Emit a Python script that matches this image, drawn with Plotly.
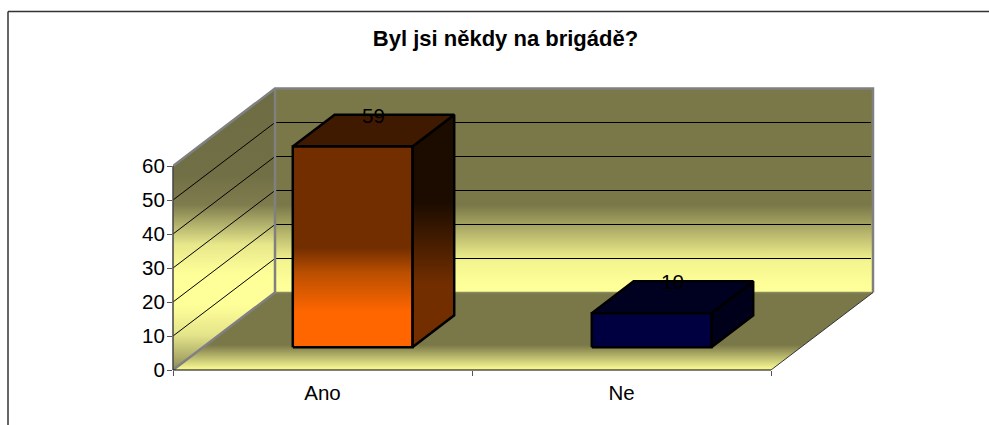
import plotly.graph_objects as go

# --- data ---
categories = ["Ano", "Ne"]
values = [59, 10]
y_ticks = [0, 10, 20, 30, 40, 50, 60]
title_text = "Byl jsi někdy na brigádě?"

# --- style ---
W, H = 989, 425
L, R, T, B = 173, 771, 166, 370       # front-plane pixel box
Y_MAX = 60
X_MAX = len(categories)
PX_X = (R - L) / X_MAX
PX_Y = (B - T) / Y_MAX
DEPTH_X = 102 / PX_X                   # full depth shift in category units
DEPTH_Y = 77.5 / PX_Y                  # full depth shift in value units
SLACK_X, SLACK_Y = 3, 3.5              # pixels kept free beyond the back wall
BAR_W = 0.40
BAR_D0, BAR_D1 = 0.295, 0.705
LABEL_LIFT = 0.8                       # value units above the bar's top centre
FONT = "Liberation Sans"
OLIVE = "#7A7848"
PALE = "#FFFF99"

X_TOP = X_MAX + DEPTH_X + SLACK_X / PX_X
Y_TOP = Y_MAX + DEPTH_Y + SLACK_Y / PX_Y
PLOT_R = L + X_TOP * PX_X
PLOT_T = B - Y_TOP * PX_Y


def proj(x, v, d=0.0):
    return x + d * DEPTH_X, v + d * DEPTH_Y


def val_of_px(py):
    return (B - py) / PX_Y


def grad(stops):
    """stops = [(pixel y, colour)...] top to bottom -> fillgradient in axis units."""
    top, bottom = stops[0][0], stops[-1][0]
    scale = [[(p - top) / (bottom - top), c] for p, c in stops]
    return dict(type="vertical", colorscale=scale, start=val_of_px(top), stop=val_of_px(bottom))


fig = go.Figure()


def poly(points, gradient=None, color=None, line_color=None, line_width=0):
    xs = [p[0] for p in points] + [points[0][0]]
    ys = [p[1] for p in points] + [points[0][1]]
    kw = dict(fillgradient=gradient) if gradient else dict(fillcolor=color)
    fig.add_trace(go.Scatter(
        x=xs, y=ys, mode="lines", fill="toself", cliponaxis=False, hoverinfo="skip",
        line=dict(color=line_color or "rgba(0,0,0,0)", width=line_width), showlegend=False, **kw))


def path(points, color, width):
    fig.add_trace(go.Scatter(
        x=[p[0] for p in points], y=[p[1] for p in points], mode="lines", cliponaxis=False,
        hoverinfo="skip", line=dict(color=color, width=width), showlegend=False))


wall_stops = [(89, OLIVE), (205, OLIVE), (262, "#F5F590"), (285, PALE), (292, PALE)]
side_stops = [(89, "#6E6C42"), (175, "#716F45"), (205, "#7F7D4E"), (245, "#E8E88C"), (275, PALE),
              (305, PALE), (335, "#E4E48A"), (370, "#8E8C58")]
floor_stops = [(292, OLIVE), (345, OLIVE), (368, "#F4F48F"), (370, "#F4F48F")]

# back wall
back = [proj(0, 0, 1), proj(X_MAX, 0, 1), proj(X_MAX, Y_MAX, 1), proj(0, Y_MAX, 1)]
poly(back, gradient=grad(wall_stops))
# side wall
side = [proj(0, 0, 0), proj(0, 0, 1), proj(0, Y_MAX, 1), proj(0, Y_MAX, 0)]
poly(side, gradient=grad(side_stops))
# floor
floor = [proj(0, 0, 0), proj(X_MAX, 0, 0), proj(X_MAX, 0, 1), proj(0, 0, 1)]
poly(floor, gradient=grad(floor_stops))

# gridlines
for t in y_ticks[1:-1]:
    path([proj(0, t, 0), proj(0, t, 1), proj(X_MAX - 0.007, t, 1)], "#000000", 1)

# wall borders
path([proj(0, Y_MAX, 0), proj(0, Y_MAX, 1), proj(X_MAX, Y_MAX, 1), proj(X_MAX, 0, 1)], "#808080", 2.5)
path([proj(0, 0, 0), proj(0, 0, 1), proj(0, Y_MAX, 1)], "#808080", 2.5)
path([proj(0, 0, 1), proj(X_MAX, 0, 1)], "#8A8A60", 1.5)
path([proj(X_MAX, 0, 0), proj(X_MAX, 0, 1)], "#333333", 1)

# bars
bar_styles = [
    dict(front=[(147, "#732E00"), (248, "#732E00"), (272, "#B84E00"), (312, "#FF6600"), (347, "#FF6600")],
         side=[(116, "#1C0C00"), (203, "#1C0C00"), (240, "#431C00"), (285, "#732E00"), (347, "#732E00")],
         top="#401A00"),
    dict(front=[(313, "#000040"), (347, "#000040")],
         side=[(282, "#00001A"), (347, "#00001A")],
         top="#000020"),
]
for i, (v, st) in enumerate(zip(values, bar_styles)):
    x0 = i + 0.5 - BAR_W / 2
    x1 = i + 0.5 + BAR_W / 2
    kw = dict(line_color="#000000", line_width=2.5)
    poly([proj(x1, 0, BAR_D0), proj(x1, 0, BAR_D1), proj(x1, v, BAR_D1), proj(x1, v, BAR_D0)],
         gradient=grad(st["side"]), **kw)
    poly([proj(x0, v, BAR_D0), proj(x1, v, BAR_D0), proj(x1, v, BAR_D1), proj(x0, v, BAR_D1)],
         color=st["top"], **kw)
    poly([proj(x0, 0, BAR_D0), proj(x1, 0, BAR_D0), proj(x1, v, BAR_D0), proj(x0, v, BAR_D0)],
         gradient=grad(st["front"]), **kw)

# data labels
lab = [proj(i + 0.5, v + LABEL_LIFT, 0.5) for i, v in enumerate(values)]
fig.add_trace(go.Scatter(
    x=[p[0] for p in lab], y=[p[1] for p in lab], mode="text", text=[str(v) for v in values],
    textposition="top center", textfont=dict(family=FONT, size=20.5, color="#000000"),
    cliponaxis=False, hoverinfo="skip", showlegend=False))


def pap_x(px):
    return (px - L) / (PLOT_R - L)


def pap_y(py):
    return (B - py) / (B - PLOT_T)


def hline(py, px0, px1, color, width):
    return dict(type="line", xref="paper", yref="paper", x0=pap_x(px0), x1=pap_x(px1),
                y0=pap_y(py), y1=pap_y(py), line=dict(color=color, width=width))


def vline(px, py0, py1, color, width):
    return dict(type="line", xref="paper", yref="paper", x0=pap_x(px), x1=pap_x(px),
                y0=pap_y(py0), y1=pap_y(py1), line=dict(color=color, width=width))


fig.update_layout(
    width=W, height=H, autosize=False,
    margin=dict(l=L, r=W - PLOT_R, t=PLOT_T, b=H - B, pad=0),
    paper_bgcolor="#FFFFFF", plot_bgcolor="rgba(0,0,0,0)",
    showlegend=False,
    font=dict(family=FONT, color="#000000"),
    title=dict(text="<b>" + title_text + "</b>", x=505.5 / W, xanchor="center", xref="container",
               y=1 - 38 / H, yanchor="middle", yref="container",
               font=dict(family=FONT, size=22, color="#000000")),
    xaxis=dict(range=[0, X_TOP], tickmode="array",
               tickvals=[i + 0.5 for i in range(X_MAX)], ticktext=categories,
               ticks="", ticklabelstandoff=8, showgrid=False, zeroline=False, showline=False,
               tickfont=dict(family=FONT, size=20.5, color="#000000"),
               minor=dict(tickmode="array", tickvals=list(range(X_MAX + 1)), ticks="outside",
                          ticklen=5, tickcolor="#555555", tickwidth=1, showgrid=False)),
    yaxis=dict(range=[0, Y_TOP], tickmode="array", tickvals=y_ticks,
               ticks="outside", ticklen=5, tickcolor="#555555", tickwidth=1,
               ticklabelstandoff=-2, showgrid=False, zeroline=False, showline=False,
               tickfont=dict(family=FONT, size=20.5, color="#000000")),
    shapes=[vline(8, 11.5, H, "#333333", 1.5),
            hline(11.5, 8, W, "#333333", 1.5),
            vline(L, B, T, "#444444", 1.5),
            hline(B, L, R, "#000000", 1)],
)

fig.write_html("out.html", config=dict(displayModeBar=False),
               post_script="document.body.style.margin='0';")
